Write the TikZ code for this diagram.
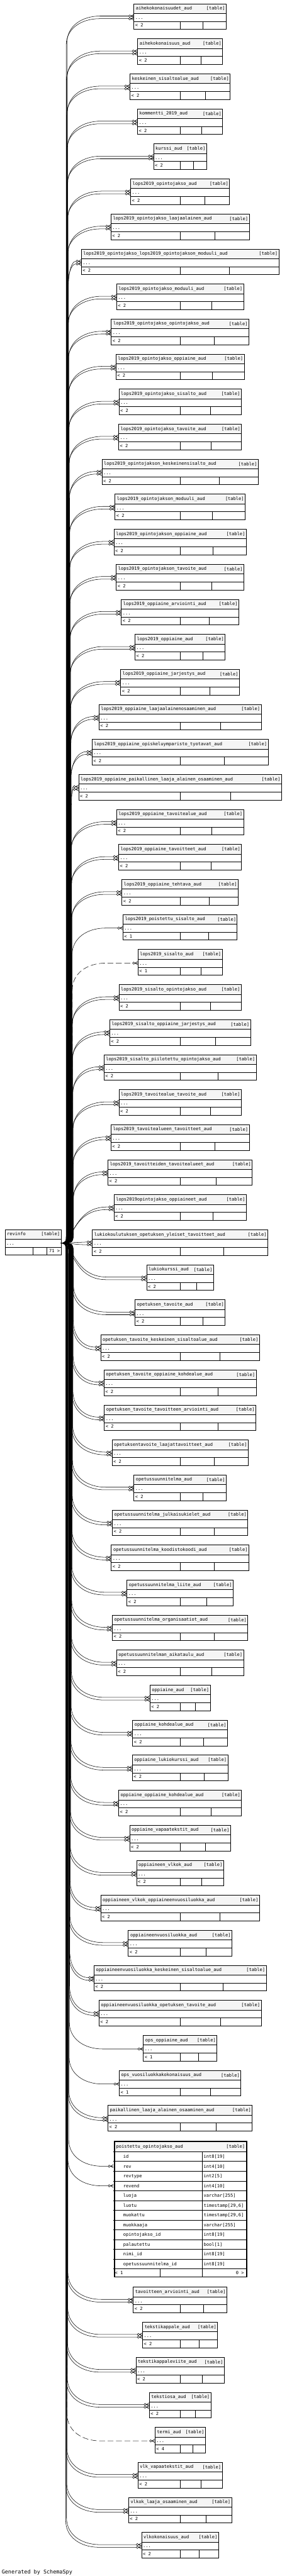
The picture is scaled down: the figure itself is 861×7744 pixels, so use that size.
\documentclass[tikz,border=0pt]{standalone}
\usepackage{fontspec}
\setmonofont{DejaVu Sans Mono}
\usetikzlibrary{calc}
\tikzset{
  tline/.style={line width=0.75pt, black},
  eline/.style={line width=0.75pt, black},
  edash/.style={line width=0.75pt, black, dash pattern=on 13pt off 6pt},
  hdrfill/.style={fill=black!4},
  tblbox/.style={draw, line width=0.75pt, inner sep=0pt, outer sep=0pt},
  txt/.style={font=\ttfamily\fontsize{10}{12}\selectfont, inner sep=0pt},
}
% parent port
\def\PTop{3696}
\def\PX{183}
\pgfmathsetmacro\PY{\PTop+41}
\newcommand\crowft[2]{%
  \draw[tline] (#1-12.5,#2) circle[radius=3.5];
  \draw[tline] (#1-9,#2) -- (#1,#2-5) (#1-9,#2) -- (#1,#2) (#1-9,#2) -- (#1,#2+5);
}
\newcommand\fkabs[3]{% #1 absolute y, #2 xb, #3 style ; uses \tL
  \pgfmathsetmacro\yt{#1}%
  \pgfmathsetmacro\ex{\tL-16}%
  \pgfmathsetmacro\xh{min(#2+100,\ex)}%
  \pgfmathsetmacro\xc{#2+0.45*(\xh-#2)}%
  \pgfmathsetmacro\sg{\yt<\PY ? 1 : -1}%
  \pgfmathtruncatemacro\near{abs(\PY-\yt)<140 ? 1 : 0}%
  \ifnum\near=1
    \draw[#3] (pport) .. controls (#2,\PY) and (#2,\yt) .. (\xh,\yt) -- (\ex,\yt);
  \else
    \draw[#3] (pport) .. controls (#2,\PY) and (#2,\PY) .. (#2,\PY-\sg*40) -- (#2,\yt+\sg*80) .. controls (#2,\yt+\sg*30) and (\xc,\yt) .. (\xh,\yt) -- (\ex,\yt);
  \fi
  \crowft{\tL}{\yt}%
}
\newcommand\aud[5]{% #1 index, #2 name, #3 right x, #4 parents, #5 edge kind (2,1,d)
  \pgfmathsetmacro\tT{#1<63 ? 11.2+(#1-1)*105.3 : 6875.5+(#1-63)*105.3}%
  \pgfmathsetmacro\tL{1081.4-#3}%
  \pgfmathsetmacro\tM{(540.7+#3)/2}%
  \pgfmathsetmacro\dd{abs(\PY-\tT-41)/3900}%
  \pgfmathsetmacro\xbA{222-22*\dd}%
  \pgfmathsetmacro\xbB{\xbA-2.5}%
  \pgfmathsetmacro\yA{\tT+37}%
  \pgfmathsetmacro\yB{\tT+45}%
  \pgfmathsetmacro\yC{\tT+41}%
  \fill[hdrfill] (\tL,\tT) rectangle (#3,\tT+29);
  \node[tblbox, minimum width={(#3-\tL)*0.75pt}, minimum height={77*0.75pt}, anchor=north west] (t#1) at (\tL,\tT) {};
  \draw[tline] (\tL,\tT+29) -- (#3,\tT+29) (\tL,\tT+53) -- (#3,\tT+53)
     (540.7,\tT+53) -- (540.7,\tT+77) (\tM,\tT+53) -- (\tM,\tT+77);
  \node[txt, anchor=base west] at (\tL+6,\tT+18.5) {#2};
  \node[txt, anchor=base east] at (#3-3,\tT+19) {[table]};
  \node[txt, anchor=base west] at (\tL+4,\tT+46) {...};
  \node[txt, anchor=base west] at (\tL+4,\tT+70) {<\ #4};
  \if#52\fkabs{\yA}{\xbA}{eline}\fkabs{\yB}{\xbB}{eline}\fi
  \if#51\fkabs{\yC}{\xbA}{eline}\fi
  \if#5d\fkabs{\yC}{\xbA}{edash}\fi
}
\begin{document}
\begin{tikzpicture}[x=0.75pt,y=-0.75pt]
\useasboundingbox (0,0) rectangle (861,7744);
\fill[white] (0,0) rectangle (861,7744);

% parent table
\fill[hdrfill] (15,\PTop) rectangle (183,\PTop+29);
\node[tblbox, minimum width={168*0.75pt}, minimum height={77*0.75pt}, anchor=north west] (par) at (15,\PTop) {};
\draw[tline] (15,\PTop+29) -- (183,\PTop+29) (15,\PTop+53) -- (183,\PTop+53) (99,\PTop+53) -- (99,\PTop+77) (141,\PTop+53) -- (141,\PTop+77);
\node[txt, anchor=base west] at (21,\PTop+18.5) {revinfo};
\node[txt, anchor=base east] at (180,\PTop+19) {[table]};
\node[txt, anchor=base west] at (19,\PTop+46) {...};
\node[txt, anchor=base east] at (180,\PTop+70) {71\ >};
\coordinate (pport) at (\PX,\PY);

\aud{1}{aihekokonaisuudet\_aud}{679.3}{2}{2}
\aud{2}{aihekokonaisuus\_aud}{668.3}{2}{2}
\aud{3}{keskeinen\_sisaltoalue\_aud}{691.3}{2}{2}
\aud{4}{kommentti\_2019\_aud}{668.7}{2}{2}
\aud{5}{kurssi\_aud}{620.3}{2}{2}
\aud{6}{lops2019\_opintojakso\_aud}{689.3}{2}{2}
\aud{7}{lops2019\_opintojakso\_laajaalainen\_aud}{748.3}{2}{2}
\aud{8}{lops2019\_opintojakso\_lops2019\_opintojakson\_moduuli\_aud}{837.3}{2}{2}
\aud{9}{lops2019\_opintojakso\_moduuli\_aud}{731.3}{2}{2}
\aud{10}{lops2019\_opintojakso\_opintojakso\_aud}{747.3}{2}{2}
\aud{11}{lops2019\_opintojakso\_oppiaine\_aud}{733.3}{2}{2}
\aud{12}{lops2019\_opintojakso\_sisalto\_aud}{724.3}{2}{2}
\aud{13}{lops2019\_opintojakso\_tavoite\_aud}{725.3}{2}{2}
\aud{14}{lops2019\_opintojakson\_keskeinensisalto\_aud}{775.3}{2}{2}
\aud{15}{lops2019\_opintojakson\_moduuli\_aud}{736.3}{2}{2}
\aud{16}{lops2019\_opintojakson\_oppiaine\_aud}{739.3}{2}{2}
\aud{17}{lops2019\_opintojakson\_tavoite\_aud}{732.3}{2}{2}
\aud{18}{lops2019\_oppiaine\_arviointi\_aud}{717.3}{2}{2}
\aud{19}{lops2019\_oppiaine\_aud}{676.3}{2}{2}
\aud{20}{lops2019\_oppiaine\_jarjestys\_aud}{719.3}{2}{2}
\aud{21}{lops2019\_oppiaine\_laajaalainenosaaminen\_aud}{784.3}{2}{2}
\aud{22}{lops2019\_oppiaine\_opiskeluymparisto\_tyotavat\_aud}{805.3}{2}{2}
\aud{23}{lops2019\_oppiaine\_paikallinen\_laaja\_alainen\_osaaminen\_aud}{845.3}{2}{2}
\aud{24}{lops2019\_oppiaine\_tavoitealue\_aud}{731.3}{2}{2}
\aud{25}{lops2019\_oppiaine\_tavoitteet\_aud}{725.3}{2}{2}
\aud{26}{lops2019\_oppiaine\_tehtava\_aud}{715.3}{2}{2}
\aud{27}{lops2019\_poistettu\_sisalto\_aud}{712.3}{1}{1}
\aud{28}{lops2019\_sisalto\_aud}{667.3}{1}{d}
\aud{29}{lops2019\_sisalto\_opintojakso\_aud}{724.3}{2}{2}
\aud{30}{lops2019\_sisalto\_oppiaine\_jarjestys\_aud}{752.3}{2}{2}
\aud{31}{lops2019\_sisalto\_piilotettu\_opintojakso\_aud}{769.3}{2}{2}
\aud{32}{lops2019\_tavoitealue\_tavoite\_aud}{724.3}{2}{2}
\aud{33}{lops2019\_tavoitealueen\_tavoitteet\_aud}{748.3}{2}{2}
\aud{34}{lops2019\_tavoitteiden\_tavoitealueet\_aud}{757.3}{2}{2}
\aud{35}{lops2019opintojakso\_oppiaineet\_aud}{739.3}{2}{2}
\aud{36}{lukiokoulutuksen\_opetuksen\_yleiset\_tavoitteet\_aud}{804.3}{2}{2}
\aud{37}{lukiokurssi\_aud}{641.3}{2}{2}
\aud{38}{opetuksen\_tavoite\_aud}{676.3}{2}{2}
\aud{39}{opetuksen\_tavoite\_keskeinen\_sisaltoalue\_aud}{779.3}{2}{2}
\aud{40}{opetuksen\_tavoite\_oppiaine\_kohdealue\_aud}{769.3}{2}{2}
\aud{41}{opetuksen\_tavoite\_tavoitteen\_arviointi\_aud}{768.3}{2}{2}
\aud{42}{opetuksentavoite\_laajattavoitteet\_aud}{745.3}{2}{2}
\aud{43}{opetussuunnitelma\_aud}{679.3}{2}{2}
\aud{44}{opetussuunnitelma\_julkaisukielet\_aud}{744.3}{2}{2}
\aud{45}{opetussuunnitelma\_koodistokoodi\_aud}{747.3}{2}{2}
\aud{46}{opetussuunnitelma\_liite\_aud}{700.3}{2}{2}
\aud{47}{opetussuunnitelma\_organisaatiot\_aud}{744.3}{2}{2}
\aud{48}{opetussuunnitelman\_aikataulu\_aud}{731.3}{2}{2}
\aud{49}{oppiaine\_aud}{631.3}{2}{2}
\aud{50}{oppiaine\_kohdealue\_aud}{683.3}{2}{2}
\aud{51}{oppiaine\_lukiokurssi\_aud}{684.3}{2}{2}
\aud{52}{oppiaine\_oppiaine\_kohdealue\_aud}{725.3}{2}{2}
\aud{53}{oppiaine\_vapaatekstit\_aud}{692.3}{2}{2}
\aud{54}{oppiaineen\_vlkok\_aud}{671.3}{2}{2}
\aud{55}{oppiaineen\_vlkok\_oppiaineenvuosiluokka\_aud}{779.3}{2}{2}
\aud{56}{oppiaineenvuosiluokka\_aud}{696.3}{2}{2}
\aud{57}{oppiaineenvuosiluokka\_keskeinen\_sisaltoalue\_aud}{799.3}{2}{2}
\aud{58}{oppiaineenvuosiluokka\_opetuksen\_tavoite\_aud}{784.3}{2}{2}
\aud{59}{ops\_oppiaine\_aud}{651.3}{1}{1}
\aud{60}{ops\_vuosiluokkakokonaisuus\_aud}{723.3}{1}{1}
\aud{61}{paikallinen\_laaja\_alainen\_osaaminen\_aud}{757.3}{2}{2}
\aud{63}{tavoitteen\_arviointi\_aud}{681.3}{2}{2}
\aud{64}{tekstikappale\_aud}{653.3}{2}{2}
\aud{65}{tekstikappaleviite\_aud}{673.3}{2}{2}
\aud{66}{tekstiosa\_aud}{633.3}{2}{2}
\aud{67}{termi\_aud}{616.3}{4}{d}
\aud{68}{vlk\_vapaatekstit\_aud}{667.3}{2}{2}
\aud{69}{vlkok\_laaja\_osaaminen\_aud}{695.3}{2}{2}
\aud{70}{vlkokonaisuus\_aud}{656.3}{2}{2}

% focus table
\fill[hdrfill] (340.7,6434.9) rectangle (740.7,6468.6);
\node[draw, line width=2.25pt, inner sep=0pt, minimum width={397*0.75pt}, minimum height={407*0.75pt}, anchor=north west] (t62) at (342.2,6436.4) {};
\foreach \yy in {6468.6,6497.4,6527.5,6556.3,6585.5,6615.7,6644.4,6673.7,6703.3,6732.6,6761.3,6791.5,6820.2}
  \draw[tline] (340.7,\yy) -- (740.7,\yy);
\draw[tline] (607.3,6468.6) -- (607.3,6845) (481.3,6820.2) -- (481.3,6845);
\node[txt, anchor=base west] at (349,6457) {poistettu\_opintojakso\_aud};
\node[txt, anchor=base east] at (736,6458) {[table]};
\foreach \nm/\ty [count=\i from 0] in {id/int8[19],rev/int4[10],revtype/int2[5],revend/int4[10],luoja/varchar[255],luotu/{timestamp[29,6]},muokattu/{timestamp[29,6]},muokkaaja/varchar[255],opintojakso\_id/int8[19],palautettu/bool[1],nimi\_id/int8[19],opetussuunnitelma\_id/int8[19]}
{
  \node[txt, anchor=base west] at (370,6488+\i*29.3) {\nm};
  \node[txt, anchor=base west] at (611.5,6488+\i*29.3) {\ty};
}
\node[txt, anchor=base west] at (345,6838) {<\ 1};
\node[txt, anchor=base east] at (733,6838) {0\ >};
% connectors to the focus table (rev, revend)
\def\tL{340.7}
\pgfmathsetmacro\dd{abs(\PY-6512)/3900}
\pgfmathsetmacro\xbA{222-22*\dd}
\pgfmathsetmacro\xbB{\xbA-2.5}
\fkabs{6512}{\xbA}{eline}
\fkabs{6571}{\xbB}{eline}

\node[font=\ttfamily\fontsize{12}{14}\selectfont, anchor=base west, inner sep=0pt] (foot) at (5,7737) {Generated by SchemaSpy};
\end{tikzpicture}
\end{document}
